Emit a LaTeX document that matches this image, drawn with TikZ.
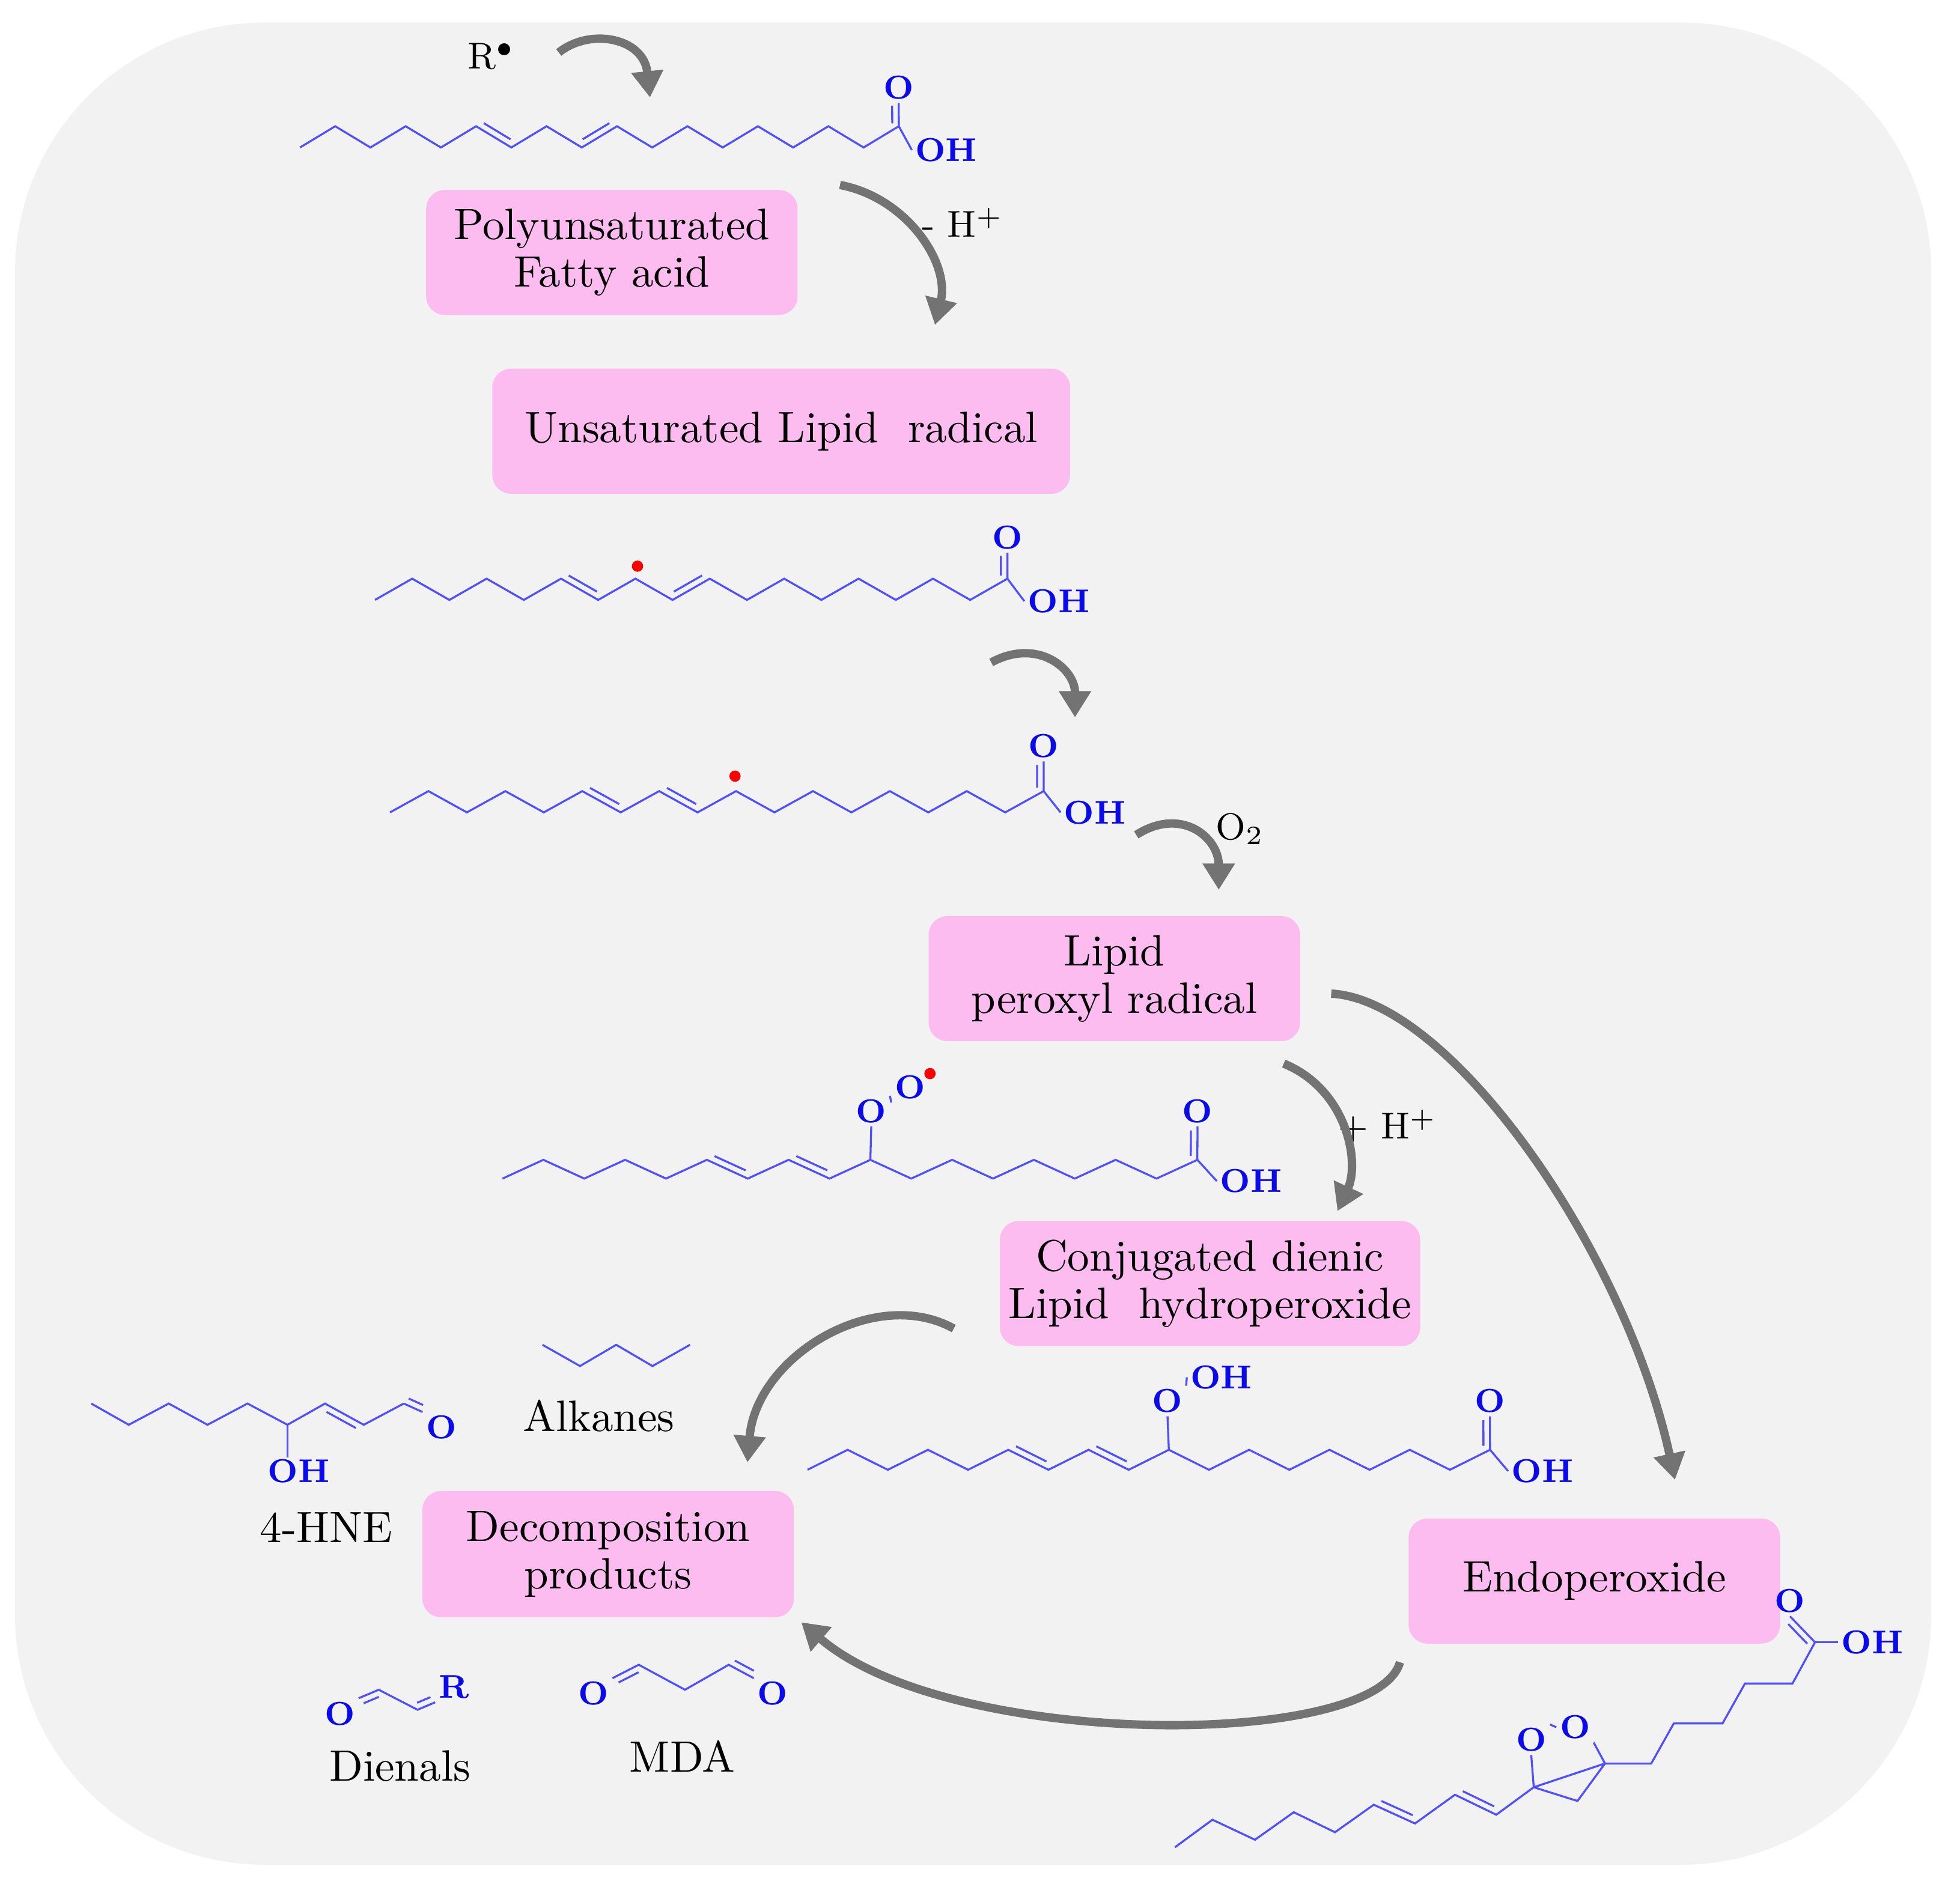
\documentclass[tikz,border=0pt]{standalone}
\usetikzlibrary{calc,arrows.meta}
\definecolor{bgc}{RGB}{242,242,242}
\definecolor{pinkc}{RGB}{252,188,240}
\definecolor{bondc}{RGB}{80,80,250}
\definecolor{atomc}{RGB}{10,10,235}
\definecolor{arrc}{RGB}{115,115,115}
\newcommand\mkchain[6]{%
 \foreach \i in {0,...,#6}{\coordinate (#1-\i) at ({#2+\i*#4},{#3-#5*mod(\i,2)});}
 \draw[bond] (#1-0) \foreach \i in {1,...,#6}{ -- (#1-\i)};}
\newcommand\dbl[2]{\draw[bond] ($(#1)!0.12!(#2)!1.5pt!90:(#2)$) -- ($(#1)!0.88!(#2)!1.5pt!-90:(#1)$);}
\begin{document}
\begin{tikzpicture}[x=0.01cm,y=-0.01cm,
 bond/.style={draw=bondc,line width=0.45pt},
 atom/.style={text=atomc,font=\fontsize{7.5}{8}\selectfont\bfseries,inner sep=0.6pt},
 box/.style={fill=pinkc,rounded corners=0.15cm,align=center,font=\fontsize{10}{10.8}\selectfont,inner sep=2pt},
 lab/.style={font=\fontsize{10}{11}\selectfont,inner sep=1pt},
 sm/.style={font=\fontsize{8.5}{9}\selectfont,inner sep=1pt},
 arr/.style={draw=arrc,line width=1.9pt,-{Triangle[length=6pt,width=7pt]}}]
\useasboundingbox (0,0) rectangle (1568,1505);
\fill[white] (0,0) rectangle (1568,1505);
\fill[bgc,rounded corners=2cm] (12,18) rectangle (1545,1492);
% boxes
\node[box,minimum width=2.97cm,minimum height=1cm] (pufa) at (489.5,202) {Polyunsaturated\\Fatty acid};
\node[box,minimum width=4.62cm,minimum height=1cm] (ulr) at (625,345) {Unsaturated Lipid\ \ radical};
\node[box,minimum width=2.97cm,minimum height=1cm] (lpr) at (891.5,783) {Lipid\\peroxyl radical};
\node[box,minimum width=3.24cm,minimum height=1cm] (cdl) at (968,1027) {Conjugated dienic\\Lipid\ \ hydroperoxide};
\node[box,minimum width=2.97cm,minimum height=1.01cm] (dp) at (486.5,1243.5) {Decomposition\\products};
\node[box,minimum width=2.97cm,minimum height=1cm] (endo) at (1275.5,1265) {Endoperoxide};
% chain 1
\mkchain{a}{240}{118}{28.18}{17}{17}
\dbl{a-5}{a-6}\dbl{a-8}{a-9}
\node[atom] (ao) at (719,70) {O};
\node[atom] (aoh) at (757,120) {OH};
\draw[bond] (a-17) -- (ao.south); \dbl{a-17}{ao.south}
\draw[bond] (a-17) -- (aoh.west);
\node[sm] (r) at (393,45) {R$^{\bullet}$};
% chain 2
\mkchain{b}{300}{480}{29.76}{17}{17}
\dbl{b-5}{b-6}\dbl{b-8}{b-9}
\node[atom] (bo) at (806,430) {O};
\node[atom] (boh) at (847,481) {OH};
\draw[bond] (b-17) -- (bo.south); \dbl{b-17}{bo.south}
\draw[bond] (b-17) -- (boh.west);
\fill[red] (510,453) circle (4.5);
% chain 3
\mkchain{c}{312}{650}{30.76}{17}{17}
\dbl{c-5}{c-6}\dbl{c-7}{c-8}
\node[atom] (co) at (835,597) {O};
\node[atom] (coh) at (876,650) {OH};
\draw[bond] (c-17) -- (co.south); \dbl{c-17}{co.south}
\draw[bond] (c-17) -- (coh.west);
\fill[red] (588,621) circle (4.5);
% chain 4
\mkchain{d}{402}{943}{32.7}{15}{17}
\dbl{d-5}{d-6}\dbl{d-7}{d-8}
\node[atom] (do) at (958,889) {O};
\node[atom] (doh) at (1001,945) {OH};
\draw[bond] (d-17) -- (do.south); \dbl{d-17}{do.south}
\draw[bond] (d-17) -- (doh.west);
\node[atom] (dp1) at (697,889) {O};
\node[atom] (dp2) at (728,870) {O};
\draw[bond] (d-9) -- (dp1.south);
\draw[bond] (dp1.north east) -- (dp2.south west);
\fill[red] (744,859) circle (4.5);
% chain 5
\mkchain{e}{646}{1176}{32.12}{16}{17}
\dbl{e-5}{e-6}\dbl{e-7}{e-8}
\node[atom] (eo) at (1192,1121) {O};
\node[atom] (eoh) at (1234,1177) {OH};
\draw[bond] (e-17) -- (eo.south); \dbl{e-17}{eo.south}
\draw[bond] (e-17) -- (eoh.west);
\node[atom] (ep1) at (934,1121) {O};
\node[atom] (ep2) at (977,1102) {OH};
\draw[bond] (e-9) -- (ep1.south);
\draw[bond] (ep1.north east) -- (ep2.west);
% endoperoxide structure
\foreach \n/\p in {0/{940,1478},1/{970,1456},2/{1004,1472},3/{1035,1450},4/{1068,1466},5/{1099,1444},6/{1132,1459},7/{1164,1436},8/{1197,1452},9/{1227,1430},10/{1262,1441},11/{1284,1411},12/{1321,1411},13/{1339,1379},14/{1378,1379},15/{1396,1347},16/{1434,1347},17/{1452,1314}}
 {\coordinate (f-\n) at (\p);}
\draw[bond] (f-0) \foreach \i in {1,...,17}{ -- (f-\i)};
\dbl{f-5}{f-6}\dbl{f-7}{f-8}
\draw[bond] (f-9) -- (f-11);
\node[atom] (fo1) at (1225,1392) {O};
\node[atom] (fo2) at (1260,1382) {O};
\draw[bond] (f-9) -- (fo1.south);
\draw[bond] (fo1.north east) -- (fo2.west);
\draw[bond] (fo2.south east) -- (f-11);
\node[atom] (fo) at (1432,1281) {O};
\node[atom] (foh) at (1498,1314) {OH};
\draw[bond] (f-17) -- (fo.south); \dbl{f-17}{fo.south}
\draw[bond] (f-17) -- (foh.west);
% 4-HNE
\foreach \n/\p in {0/{73,1123},1/{103,1140},2/{135,1123},3/{166,1140},4/{198,1123},5/{230,1140},6/{260,1123},7/{291,1140},8/{323,1123}}
 {\coordinate (h-\n) at (\p);}
\draw[bond] (h-0) \foreach \i in {1,...,8}{ -- (h-\i)};
\dbl{h-7}{h-6}
\node[atom] (ho) at (353,1142) {O};
\node[atom] (hoh) at (239,1177) {OH};
\draw[bond] (h-8) -- (ho.north west); \dbl{h-8}{ho.north west}
\draw[bond] (h-5) -- (230,1166);
\node[lab] (hne) at (261,1222) {4-HNE};
% alkanes
\foreach \n/\p in {0/{434,1076},1/{464,1093},2/{493,1076},3/{522,1093},4/{552,1076}}
 {\coordinate (k-\n) at (\p);}
\draw[bond] (k-0) \foreach \i in {1,...,4}{ -- (k-\i)};
\node[lab] (alk) at (479,1133) {Alkanes};
% dienals
\node[atom] (no) at (272,1371) {O};
\coordinate (n-1) at (303,1352);
\coordinate (n-2) at (334,1368);
\node[atom] (nr) at (363,1350) {R};
\draw[bond] (no.north east) -- (n-1) -- (n-2) -- (nr.south west);
\dbl{n-1}{no.north east}\dbl{n-2}{nr.south west}
\node[lab] (die) at (320,1413) {Dienals};
% MDA
\node[atom] (mo1) at (475,1355) {O};
\coordinate (m-1) at (511,1332);
\coordinate (m-2) at (548,1352);
\coordinate (m-3) at (583,1332);
\node[atom] (mo2) at (618,1355) {O};
\draw[bond] (mo1.north east) -- (m-1) -- (m-2) -- (m-3) -- (mo2.north west);
\dbl{m-1}{mo1.north east}\dbl{m-3}{mo2.north west}
\node[lab] (mda) at (546,1405) {MDA};
% reagent labels
\node[sm] (hm) at (770,178) {- H$^{+}$};
\node[sm] (o2) at (992,663) {O$_2$};
\node[sm] (hp) at (1110,901) {+ H$^{+}$};
% arrows
\coordinate (a1s) at (447,42); \coordinate (a1e) at (520,78);
\draw[arr] (a1s) .. controls (472,22) and (515,30) .. (a1e);
\coordinate (a2s) at (672,148); \coordinate (a2e) at (748,260);
\draw[arr] (a2s) .. controls (725,158) and (760,210) .. (a2e);
\coordinate (a3s) at (793,530); \coordinate (a3e) at (860,574);
\draw[arr] (a3s) .. controls (830,510) and (860,535) .. (a3e);
\coordinate (a4s) at (909,668); \coordinate (a4e) at (975,712);
\draw[arr] (a4s) .. controls (945,645) and (975,670) .. (a4e);
\coordinate (a5s) at (1065,795); \coordinate (a5e) at (1340,1184);
\draw[arr] (a5s) .. controls (1160,800) and (1300,1000) .. (a5e);
\coordinate (a6s) at (1027,851); \coordinate (a6e) at (1070,969);
\draw[arr] (a6s) .. controls (1078,872) and (1088,930) .. (a6e);
\coordinate (a7s) at (763,1063); \coordinate (a7e) at (598,1170);
\draw[arr] (a7s) .. controls (700,1028) and (605,1085) .. (a7e);
\coordinate (a8s) at (1120,1330); \coordinate (a8e) at (641,1298);
\draw[arr] (a8s) .. controls (1100,1400) and (760,1400) .. (a8e);
\end{tikzpicture}
\end{document}
